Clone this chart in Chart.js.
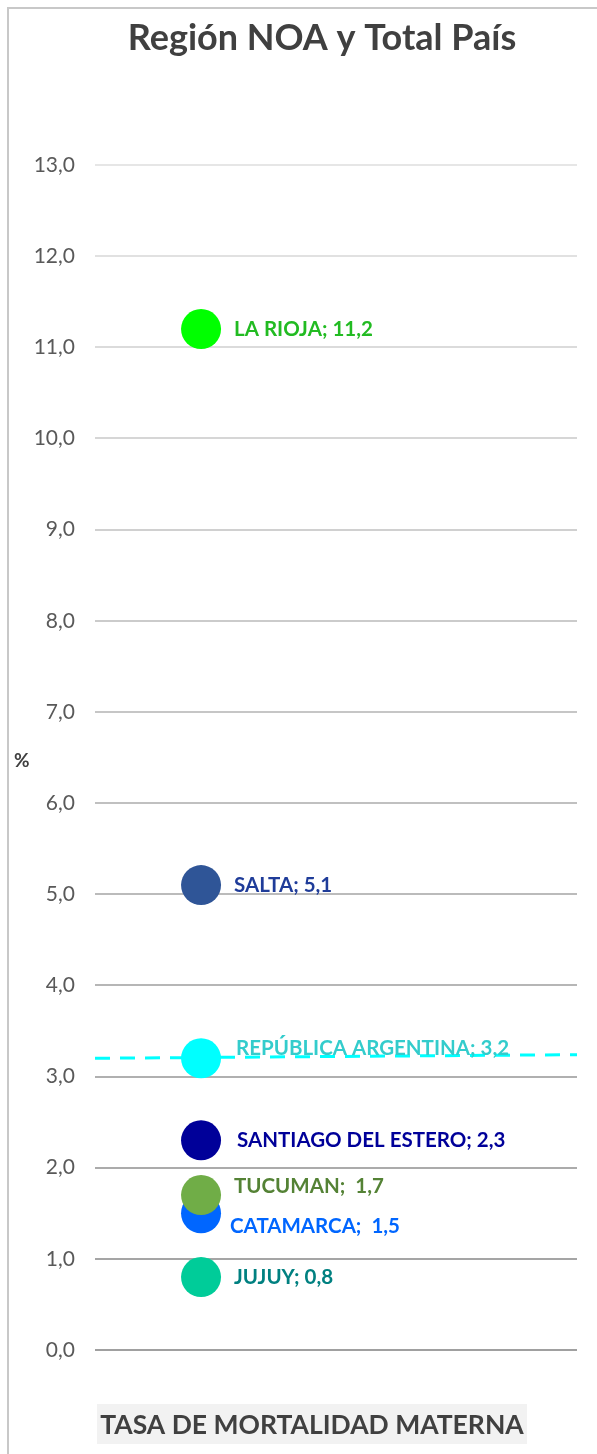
<!DOCTYPE html>
<html>
<head>
<meta charset="utf-8">
<script src="https://cdn.jsdelivr.net/npm/chart.js@4"></script>
<style>
  html, body { margin: 0; padding: 0; background: #fff; overflow: hidden; }
  canvas { display: block; }
</style>
</head>
<body>
<canvas id="grafico" width="597" height="1454"></canvas>
<script>
// datos
const titulo = 'Región NOA y Total País';
const tituloEje = 'TASA DE MORTALIDAD MATERNA';
const provincias = ['LA RIOJA', 'SALTA', 'REPÚBLICA ARGENTINA', 'SANTIAGO DEL ESTERO', 'CATAMARCA', 'TUCUMAN', 'JUJUY'];
const tasas = [11.2, 5.1, 3.2, 2.3, 1.5, 1.7, 0.8];
const posX = [0.22, 0.22, 0.22, 0.22, 0.22, 0.22, 0.22];
const totalPaisLinea = [3.2, 3.24]; // línea punteada del total país
const totalPaisX = [0, 1];

// estilos
const colorPunto = ['#00FF00', '#2F5597', '#00FFFF', '#000099', '#0066FF', '#70AD47', '#00CC99'];
const colorEtiqueta = ['#22BB22', '#1F3C99', '#33CCCC', '#000099', '#0066FF', '#548235', '#008080'];
const desplazamiento = [[33, 0], [33, 0], [35, -10], [36, 0], [29, 13], [33, -9], [33, 0]];
const etiquetaSep = ['; ', '; ', '; ', '; ', ';  ', ';  ', '; '];

const fmt = v => v.toFixed(1).replace('.', ',');

const puntos = tasas.map((v, i) => ({ x: posX[i], y: v }));
const linea = totalPaisLinea.map((v, i) => ({ x: totalPaisX[i], y: v }));

const extras = {
  id: 'extras',
  beforeDraw(chart) {
    const c = chart.ctx;
    c.save();
    c.fillStyle = '#fff';
    c.fillRect(0, 0, chart.width, chart.height);
    // marco
    c.strokeStyle = '#C8C8C8';
    c.lineWidth = 2;
    c.beginPath();
    c.moveTo(8, chart.height);
    c.lineTo(8, 8);
    c.lineTo(chart.width, 8);
    c.stroke();
    // título
    c.fillStyle = '#404040';
    c.font = 'bold 36px Lato';
    c.textAlign = 'center';
    c.textBaseline = 'middle';
    c.fillText(titulo, 322, 38);
    // "%"
    c.textAlign = 'left';
    c.font = 'bold 19px Lato';
    c.fillText('%', 14, 761);
    // título del eje
    c.fillStyle = '#F2F2F2';
    c.fillRect(97, 1404, 430, 40);
    c.fillStyle = '#404040';
    c.font = 'bold 26.5px Lato';
    c.textAlign = 'center';
    c.fillText(tituloEje, 312, 1425);
    c.restore();
  },
  afterDatasetsDraw(chart) {
    const c = chart.ctx;
    const meta = chart.getDatasetMeta(1);
    c.save();
    c.font = 'bold 20.5px Lato';
    c.textBaseline = 'middle';
    meta.data.forEach((p, i) => {
      c.fillStyle = colorEtiqueta[i];
      c.fillText(provincias[i] + etiquetaSep[i] + fmt(tasas[i]), p.x + desplazamiento[i][0], p.y + desplazamiento[i][1]);
    });
    c.restore();
  }
};

new Chart(document.getElementById('grafico'), {
  type: 'scatter',
  data: {
    datasets: [{
      type: 'line',
      data: linea,
      borderColor: '#00FFFF',
      borderWidth: 3,
      borderDash: [15, 10],
      pointRadius: 0,
      fill: false,
      order: 2
    }, {
      data: puntos,
      pointRadius: 20,
      pointHoverRadius: 20,
      pointBackgroundColor: colorPunto,
      pointBorderWidth: 0,
      order: 1
    }]
  },
  options: {
    responsive: false,
    animation: false,
    events: [],
    layout: { padding: { left: 0, right: 8, top: 165, bottom: 104 } },
    plugins: {
      legend: { display: false },
      tooltip: { enabled: false },
      title: { display: false }
    },
    scales: {
      x: { type: 'linear', min: 0, max: 1, display: false },
      y: {
        min: 0,
        max: 13,
        ticks: {
          stepSize: 1,
          color: '#595959',
          font: { family: 'Lato', size: 21 },
          padding: 20,
          callback: v => fmt(v)
        },
        grid: {
          drawTicks: false,
          color: ctx => {
            const g = Math.round(160 + 70 * (ctx.tick ? ctx.tick.value : 0) / 13);
            return `rgb(${g},${g},${g})`;
          },
          lineWidth: 2
        },
        border: { display: false },
        afterFit: s => { s.width = 95; }
      }
    }
  },
  plugins: [extras]
});
</script>
</body>
</html>
